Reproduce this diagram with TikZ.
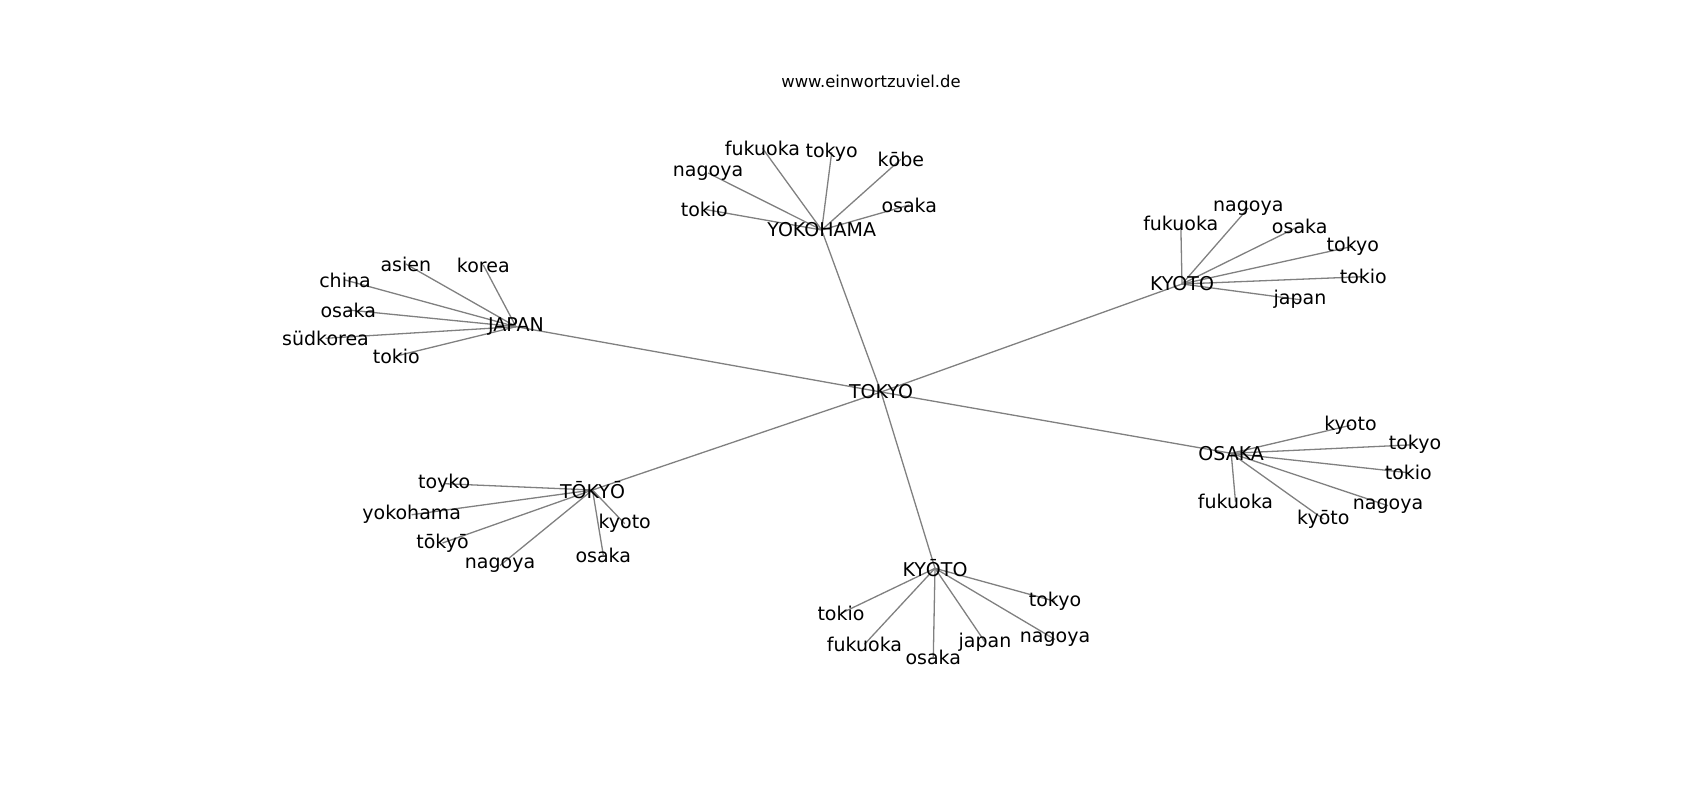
\documentclass[tikz,border=0pt]{standalone}
\usepackage{fontspec}
\setmainfont{DejaVu Sans}
\usetikzlibrary{backgrounds}
\tikzset{
  lbl/.style={inner sep=0pt, outer sep=0pt, anchor=center, font=\fontsize{19}{21}\selectfont, text=black},
  dlbl/.style={lbl, yshift=-3pt},
  ttl/.style={inner sep=0pt, anchor=center, font=\fontsize{16.4}{18}\selectfont, text=black},
  edge/.style={draw=black!50, line width=1.3pt}
}
\begin{document}
\begin{tikzpicture}[x=1pt, y=-1pt]
\useasboundingbox (0,0) rectangle (1700,800);
\node[ttl] (title) at (871,81) {www.einwortzuviel.de};
% hubs
\node[lbl] (C) at (881,392) {TOKYO};
\node[lbl] (J) at (516,326.7) {JAPAN};
\node[lbl] (Y) at (821.7,230) {YOKOHAMA};
\node[lbl] (K) at (1182,284) {KYOTO};
\node[lbl] (O) at (1231.2,453.3) {OSAKA};
\node[lbl] (T) at (592.5,490) {TŌKYŌ};
\node[lbl] (M) at (935,568.3) {KYŌTO};
% JAPAN leaves
\node[lbl] (j1) at (405.8,264) {asien};
\node[lbl] (j2) at (483.3,265) {korea};
\node[lbl] (j3) at (345,280) {china};
\node[lbl] (j4) at (348.3,310) {osaka};
\node[lbl] (j5) at (325.5,338.3) {südkorea};
\node[lbl] (j6) at (396.3,356) {tokio};
% YOKOHAMA leaves
\node[lbl] (y1) at (762.5,148.3) {fukuoka};
\node[dlbl] (y2) at (831.7,149.3) {tokyo};
\node[lbl] (y3) at (900.8,159.3) {kōbe};
\node[dlbl] (y4) at (708,170) {nagoya};
\node[lbl] (y5) at (704.3,209.3) {tokio};
\node[lbl] (y6) at (909.3,205) {osaka};
% KYOTO leaves
\node[dlbl] (k1) at (1248.3,205) {nagoya};
\node[lbl] (k2) at (1180.8,223.3) {fukuoka};
\node[lbl] (k3) at (1299.7,226) {osaka};
\node[dlbl] (k4) at (1352.8,243.3) {tokyo};
\node[lbl] (k5) at (1363.3,276.7) {tokio};
\node[dlbl] (k6) at (1300,296.7) {japan};
% OSAKA leaves
\node[dlbl] (o1) at (1350.5,422.3) {kyoto};
\node[dlbl] (o2) at (1415,441.7) {tokyo};
\node[lbl] (o3) at (1408.3,472.7) {tokio};
\node[dlbl] (o4) at (1388,502.7) {nagoya};
\node[dlbl] (o5) at (1323.3,516) {kyōto};
\node[lbl] (o6) at (1235.5,501.7) {fukuoka};
% TŌKYŌ leaves
\node[dlbl] (t1) at (444.2,480.7) {toyko};
\node[dlbl] (t2) at (411.7,511.7) {yokohama};
\node[dlbl] (t3) at (442.5,540) {tōkyō};
\node[dlbl] (t4) at (500,562.5) {nagoya};
\node[lbl] (t5) at (603.3,555) {osaka};
\node[dlbl] (t6) at (624.7,520.7) {kyoto};
% KYŌTO leaves
\node[dlbl] (m1) at (1055,598.3) {tokyo};
\node[lbl] (m2) at (841,613.3) {tokio};
\node[lbl] (m3) at (864.5,644.3) {fukuoka};
\node[lbl] (m4) at (933.3,657.3) {osaka};
\node[dlbl] (m5) at (985,639) {japan};
\node[dlbl] (m6) at (1055,636.5) {nagoya};
\begin{pgfonlayer}{background}
\foreach \h in {J,Y,K,O,T,M} \draw[edge] (C.center) -- (\h.center);
\foreach \i in {1,...,6} {
  \draw[edge] (J.center) -- (j\i.center);
  \draw[edge] (Y.center) -- (y\i.center);
  \draw[edge] (K.center) -- (k\i.center);
  \draw[edge] (O.center) -- (o\i.center);
  \draw[edge] (T.center) -- (t\i.center);
  \draw[edge] (M.center) -- (m\i.center);
}
\end{pgfonlayer}
\end{tikzpicture}
\end{document}
